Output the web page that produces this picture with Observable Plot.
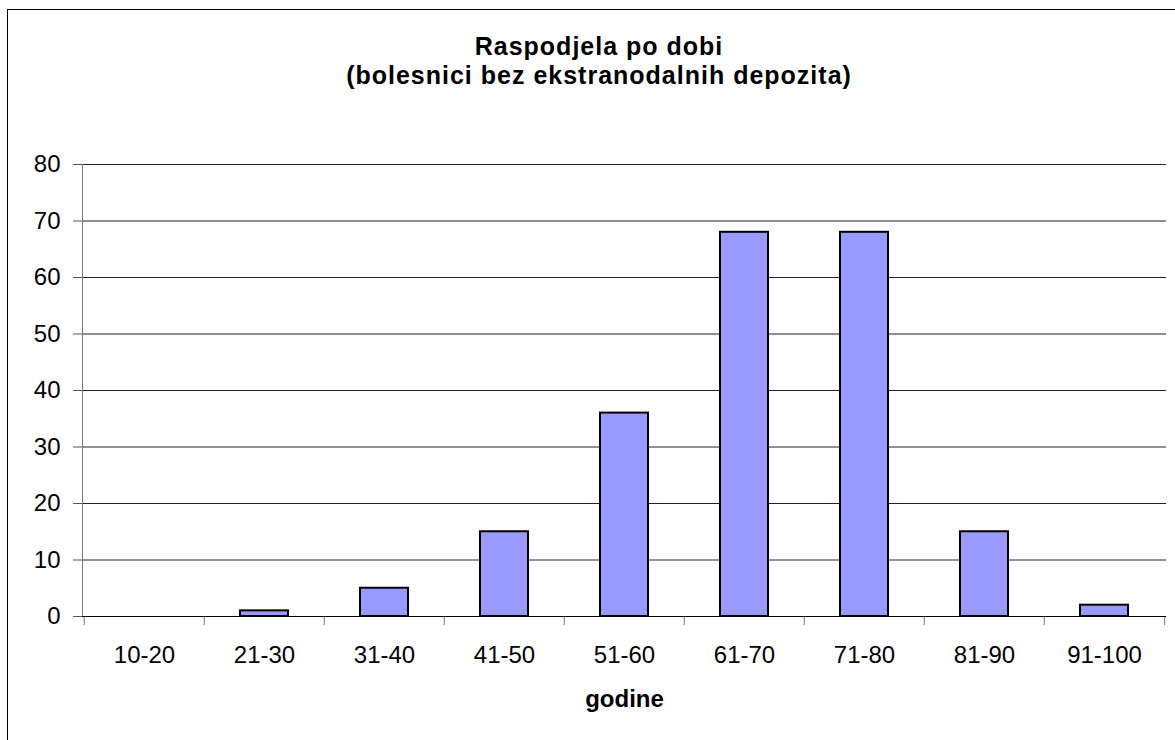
<!DOCTYPE html>
<html>
<head>
<meta charset="utf-8">
<script src="https://cdn.jsdelivr.net/npm/d3@7"></script>
<script src="https://cdn.jsdelivr.net/npm/@observablehq/plot@0.6"></script>
<style>
  html, body { margin: 0; padding: 0; background: #fff; }
  #wrap { position: relative; width: 1175px; height: 740px; overflow: hidden; font-family: "Liberation Sans", Arial, sans-serif; }
  #frame { position: absolute; left: 7px; top: 9px; right: -10px; bottom: -10px; border-left: 1px solid #000; border-top: 1px solid #000; pointer-events: none; }
  #title { position: absolute; left: 0; top: 32px; width: 1198px; text-align: center; font-weight: bold; font-size: 25px; line-height: 29px; letter-spacing: 1px; color: #000; }
  #chart { position: absolute; left: 0; top: 0; }
  #chart g[aria-label="x-axis label"] text { font-weight: bold; }
</style>
</head>
<body>
<div id="wrap">
  <div id="chart"></div>
  <div id="frame"></div>
  <div id="title">Raspodjela po dobi<br>(bolesnici bez ekstranodalnih depozita)</div>
</div>
<script>
const ageGroups = ["10-20", "21-30", "31-40", "41-50", "51-60", "61-70", "71-80", "81-90", "91-100"];
const counts = [0, 1, 5, 15, 36, 68, 68, 15, 2];
const yTicks = [0, 10, 20, 30, 40, 50, 60, 70, 80];
const xTitle = "godine";

const data = ageGroups.map((g, i) => ({age: g, count: counts[i]}));

const W = 1175, H = 740;
const mL = 82, mR = 9, mT = 164, mB = 124;
const bw = (W - mL - mR) / ageGroups.length;

const chart = Plot.plot({
  width: W,
  height: H,
  marginLeft: mL,
  marginRight: mR,
  marginTop: mT,
  marginBottom: mB,
  style: {background: "transparent", fontFamily: "'Liberation Sans', Arial, sans-serif", fontSize: "24px", color: "#000"},
  x: {domain: ageGroups, padding: 0, label: xTitle, labelAnchor: "center", labelOffset: 90},
  y: {domain: [0, 80], label: null},
  marks: [
    Plot.gridY(yTicks, {stroke: "#222", strokeOpacity: 1, strokeWidth: 1}),
    Plot.frame({anchor: "left", stroke: "#777"}),
    Plot.axisY(yTicks, {tickSize: 9, tickPadding: 13, stroke: "#555", label: null, fill: "#000"}),
    Plot.axisX({tickSize: 0, tickPadding: 29, fill: "#000", label: xTitle, labelAnchor: "center", labelOffset: 90}),
    Plot.axisX(ageGroups, {tickSize: 9, tickFormat: () => "", dx: -bw / 2, stroke: "#777", label: null}),
    Plot.axisX([ageGroups[ageGroups.length - 1]], {tickSize: 9, tickFormat: () => "", dx: bw / 2, stroke: "#777", label: null}),
    Plot.barY(data, {x: "age", y: "count", fill: "#9999FF", stroke: "#000", strokeWidth: 2, insetLeft: 36, insetRight: 36}),
    Plot.ruleY([0], {stroke: "#000", strokeWidth: 1})
  ]
});
document.getElementById("chart").appendChild(chart);
</script>
</body>
</html>
